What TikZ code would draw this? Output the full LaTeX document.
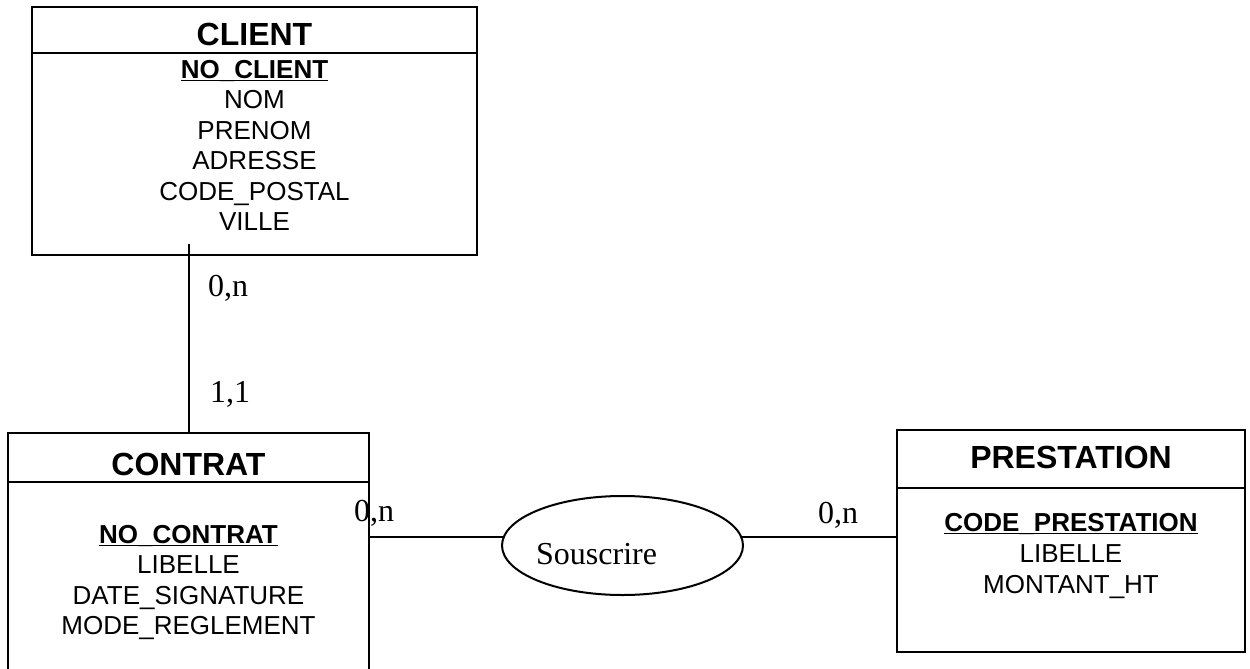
\documentclass[tikz,border=0pt]{standalone}
\usepackage{fontspec}
\setmainfont{Liberation Sans}
\newfontfamily\cardfont{Liberation Serif}
\usetikzlibrary{shapes.geometric}
\begin{document}
\begin{tikzpicture}[x=1pt,y=-1pt,
  entity/.style={draw, line width=2.3pt, rectangle, inner sep=0pt},
  header/.style={line width=2.1pt},
  title/.style={anchor=base, inner sep=0pt, font=\fontsize{32}{36}\selectfont\bfseries},
  attr/.style={anchor=base, inner sep=0pt, font=\fontsize{26}{30}\selectfont},
  keyattr/.style={anchor=base, inner sep=0pt, font=\fontsize{26}{30}\selectfont\bfseries},
  keyline/.style={line width=1.5pt},
  card/.style={anchor=base west, inner sep=0pt, font=\cardfont\fontsize{32}{36}\selectfont},
  link/.style={line width=2pt},
  assoc/.style={draw, ellipse, line width=2pt, inner sep=0pt}]

\clip (0,0) rectangle (1250,669);
\fill[white] (0,0) rectangle (1250,669);

% entity CLIENT
\node[entity, minimum width=445pt, minimum height=248pt] (client) at (254.5,131) {};
\coordinate (client-h) at (0,53);
\draw[header] (client.west |- client-h) -- (client.east |- client-h);
\node[title] (client-t) at (254.5,46) {CLIENT};
\node[keyattr] (client-k) at (254.5,78) {NO\_CLIENT};
\draw[keyline] ([yshift=-2.5pt]client-k.base west) -- ([yshift=-2.5pt]client-k.base east);
\node[attr] (client-a1) at (254.5,108.5) {NOM};
\node[attr] (client-a2) at (254.5,139) {PRENOM};
\node[attr] (client-a3) at (254.5,169.5) {ADRESSE};
\node[attr] (client-a4) at (254.5,200) {CODE\_POSTAL};
\node[attr] (client-a5) at (254.5,230.5) {VILLE};

% entity CONTRAT (runs past the lower edge)
\node[entity, minimum width=361pt, minimum height=250pt] (contrat) at (188.5,558) {};
\coordinate (contrat-h) at (0,482);
\draw[header] (contrat.west |- contrat-h) -- (contrat.east |- contrat-h);
\node[title] (contrat-t) at (188.5,475) {CONTRAT};
\node[keyattr] (contrat-k) at (188.5,543) {NO\_CONTRAT};
\draw[keyline] ([yshift=-2.5pt]contrat-k.base west) -- ([yshift=-2.5pt]contrat-k.base east);
\node[attr] (contrat-a1) at (188.5,573.5) {LIBELLE};
\node[attr] (contrat-a2) at (188.5,604) {DATE\_SIGNATURE};
\node[attr] (contrat-a3) at (188.5,634.5) {MODE\_REGLEMENT};

% entity PRESTATION
\node[entity, minimum width=348pt, minimum height=222pt] (prestation) at (1071,541) {};
\coordinate (prestation-h) at (0,488);
\draw[header] (prestation.west |- prestation-h) -- (prestation.east |- prestation-h);
\node[title] (prestation-t) at (1071,468) {PRESTATION};
\node[keyattr] (prestation-k) at (1071,531) {CODE\_PRESTATION};
\draw[keyline] ([yshift=-2.5pt]prestation-k.base west) -- ([yshift=-2.5pt]prestation-k.base east);
\node[attr] (prestation-a1) at (1071,562) {LIBELLE};
\node[attr] (prestation-a2) at (1071,593) {MONTANT\_HT};

% association Souscrire
\node[assoc, minimum width=241pt, minimum height=99pt] (souscrire) at (622.5,545.5) {};
\node[card] (souscrire-name) at (536,564.5) {Souscrire};

% links
\coordinate (client-stub) at ([yshift=12pt]client.south);
\draw[link] (contrat.north |- client-stub) -- (contrat.north);
\draw[link] (souscrire.176) -- (souscrire.176 -| contrat.east);
\draw[link] (souscrire.4) -- (souscrire.4 -| prestation.west);

% cardinalities
\node[card] (card-client) at (208,296) {0,n};
\node[card] (card-contrat-a) at (210,402) {1,1};
\node[card] (card-contrat-b) at (354,521) {0,n};
\node[card] (card-prestation) at (818,523) {0,n};
\end{tikzpicture}
\end{document}
